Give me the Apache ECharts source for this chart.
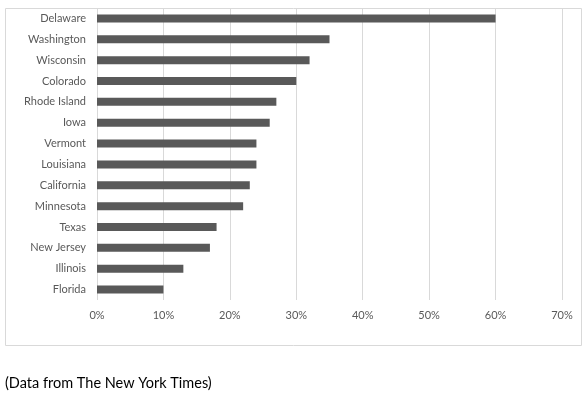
<!DOCTYPE html>
<html>
<head>
<meta charset="utf-8">
<script src="https://cdn.jsdelivr.net/npm/echarts@6/dist/echarts.min.js"></script>
<style>
html,body{margin:0;padding:0;background:#fff;}
#chart{width:587px;height:396px;}
</style>
</head>
<body>
<div id="chart"></div>
<script>
const states = ["Delaware","Washington","Wisconsin","Colorado","Rhode Island","Iowa","Vermont","Louisiana","California","Minnesota","Texas","New Jersey","Illinois","Florida"];
const values = [60,35,32,30,27,26,24,24,23,22,18,17,13,10];
const xTicks = [0,10,20,30,40,50,60,70];
const caption = "(Data from The New York Times)";

const chart = echarts.init(document.getElementById('chart'), null, {renderer:'canvas'});
const font = 'Lato, "Open Sans", sans-serif';
chart.setOption({
  animation: false,
  grid: {left: 97, right: 25, top: 8, height: 292, containLabel: false},
  xAxis: {
    type: 'value',
    min: xTicks[0], max: xTicks[xTicks.length-1], interval: 10,
    axisLine: {show: false}, axisTick: {show: false},
    splitLine: {show: true, lineStyle: {color: '#d9d9d9', width: 1}},
    axisLabel: {formatter: v => v + '%', color: '#595959', fontSize: 11, fontFamily: font, margin: 10}
  },
  yAxis: {
    type: 'category',
    data: states, inverse: true,
    axisLine: {show: false}, axisTick: {show: false},
    axisLabel: {color: '#595959', fontSize: 11, fontFamily: font, margin: 11}
  },
  series: [{
    type: 'bar',
    data: values,
    barWidth: 8,
    itemStyle: {color: '#595959'}
  }],
  graphic: [
    {type: 'rect', shape: {x: 5.5, y: 8.5, width: 576, height: 337}, style: {fill: 'none', stroke: '#d9d9d9', lineWidth: 1}, z: -1},
    {type: 'text', left: 5, top: 376, style: {text: caption, fontSize: 14.5, fontFamily: font, fill: '#000'}}
  ]
});
</script>
</body>
</html>
